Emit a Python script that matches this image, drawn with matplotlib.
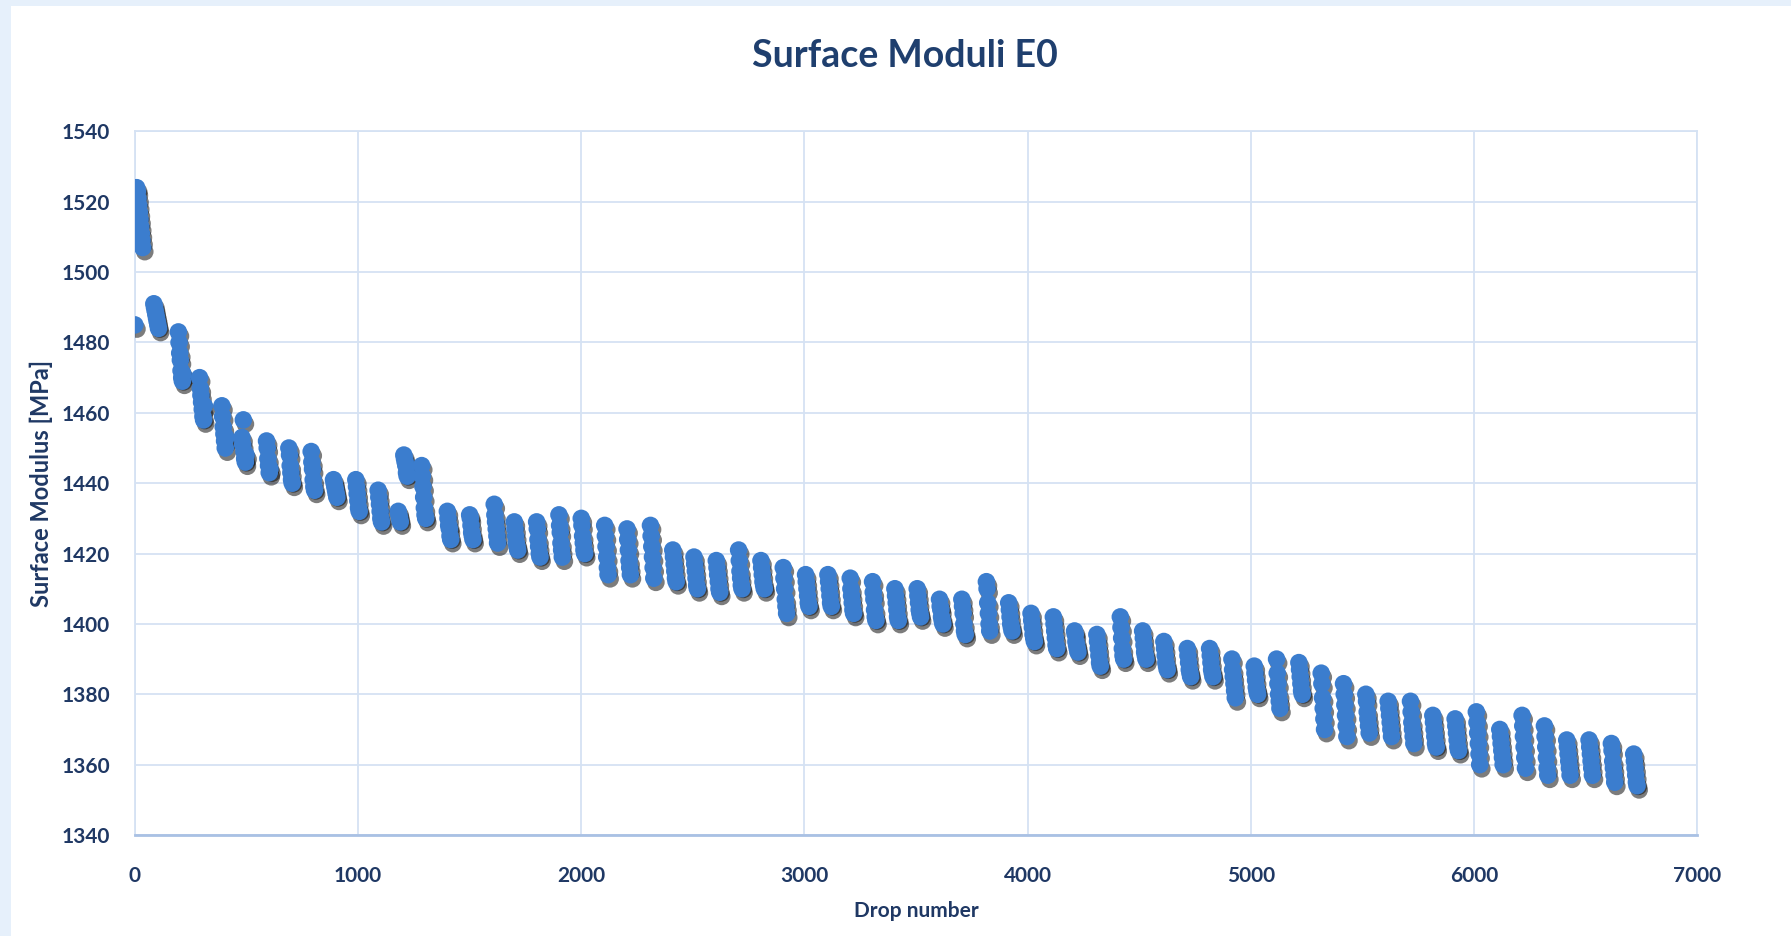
import matplotlib.pyplot as plt
import matplotlib.patheffects as pe
from matplotlib.patches import Rectangle

# Data: each cluster = starting drop number + measured moduli (MPa)
cluster_drop = [
    0, 8, 85, 195, 290, 390, 480, 590, 690, 790,
    890, 990, 1090, 1180, 1205, 1285, 1400, 1500, 1610, 1700,
    1800, 1900, 2000, 2105, 2205, 2310, 2410, 2505, 2605, 2705,
    2805, 2905, 3005, 3105, 3205, 3305, 3405, 3505, 3605, 3705,
    3815, 3915, 4015, 4115, 4210, 4310, 4415, 4515, 4610, 4715,
    4815, 4915, 5015, 5115, 5215, 5315, 5415, 5515, 5615, 5715,
    5815, 5915, 6010, 6115, 6215, 6315, 6415, 6515, 6615, 6715,
]

cluster_moduli = [
    [1485],
    [1524, 1523, 1521, 1519, 1517, 1515, 1513, 1511, 1509, 1507],
    [1491, 1490, 1489, 1488, 1487, 1486, 1485, 1484],
    [1483, 1480, 1477, 1475, 1472, 1470, 1469, 1471],
    [1470, 1467, 1465, 1463, 1461, 1459, 1458, 1462],
    [1462, 1459, 1456, 1454, 1452, 1450, 1453],
    [1453, 1451, 1458, 1449, 1447, 1446, 1448],
    [1452, 1450, 1447, 1445, 1443, 1444],
    [1450, 1448, 1445, 1443, 1441, 1440],
    [1449, 1446, 1444, 1441, 1439, 1438],
    [1441, 1440, 1439, 1438, 1437, 1436],
    [1441, 1439, 1437, 1435, 1433, 1432],
    [1438, 1436, 1434, 1432, 1430, 1429],
    [1432, 1431, 1430, 1429],
    [1448, 1447, 1446, 1445, 1443, 1442],
    [1445, 1442, 1439, 1436, 1433, 1431, 1430],
    [1432, 1430, 1428, 1427, 1425, 1424],
    [1431, 1430, 1428, 1426, 1425, 1424],
    [1434, 1431, 1429, 1427, 1425, 1423],
    [1429, 1427, 1425, 1423, 1422, 1421],
    [1429, 1427, 1424, 1422, 1420, 1419],
    [1431, 1428, 1426, 1423, 1421, 1419],
    [1430, 1428, 1425, 1423, 1421, 1420],
    [1428, 1425, 1422, 1419, 1416, 1414],
    [1427, 1424, 1421, 1418, 1416, 1414],
    [1428, 1425, 1422, 1419, 1416, 1413],
    [1421, 1419, 1417, 1415, 1413, 1412],
    [1419, 1417, 1415, 1413, 1411, 1410],
    [1418, 1416, 1414, 1412, 1410, 1409],
    [1421, 1418, 1415, 1413, 1411, 1410],
    [1418, 1416, 1414, 1412, 1411, 1410],
    [1416, 1413, 1410, 1407, 1405, 1403],
    [1414, 1412, 1410, 1408, 1406, 1405],
    [1414, 1412, 1410, 1408, 1406, 1405],
    [1413, 1410, 1408, 1406, 1404, 1403],
    [1412, 1409, 1407, 1404, 1402, 1401],
    [1410, 1408, 1406, 1404, 1402, 1401],
    [1410, 1408, 1406, 1404, 1403, 1402],
    [1407, 1405, 1404, 1402, 1401, 1400],
    [1407, 1405, 1403, 1400, 1398, 1397],
    [1412, 1410, 1406, 1403, 1400, 1398],
    [1406, 1404, 1402, 1400, 1399, 1398],
    [1403, 1401, 1399, 1397, 1396, 1395],
    [1402, 1400, 1398, 1396, 1394, 1393],
    [1398, 1397, 1395, 1394, 1393, 1392],
    [1397, 1395, 1393, 1391, 1389, 1388],
    [1402, 1399, 1396, 1393, 1391, 1390],
    [1398, 1396, 1394, 1392, 1391, 1390],
    [1395, 1393, 1391, 1389, 1388, 1387],
    [1393, 1391, 1389, 1387, 1386, 1385],
    [1393, 1391, 1389, 1387, 1386, 1385],
    [1390, 1387, 1385, 1383, 1381, 1379],
    [1388, 1386, 1384, 1382, 1381, 1380],
    [1390, 1386, 1383, 1380, 1378, 1376],
    [1389, 1387, 1385, 1383, 1381, 1380],
    [1386, 1383, 1379, 1376, 1373, 1370],
    [1383, 1380, 1377, 1374, 1371, 1368],
    [1380, 1378, 1375, 1373, 1371, 1369],
    [1378, 1376, 1374, 1372, 1370, 1368],
    [1378, 1375, 1372, 1370, 1368, 1366],
    [1374, 1372, 1370, 1368, 1366, 1365],
    [1373, 1371, 1369, 1367, 1365, 1364],
    [1375, 1372, 1369, 1366, 1363, 1360],
    [1370, 1368, 1366, 1364, 1362, 1360],
    [1374, 1371, 1368, 1365, 1362, 1359],
    [1371, 1368, 1365, 1362, 1359, 1357],
    [1367, 1365, 1363, 1361, 1359, 1357],
    [1367, 1365, 1363, 1361, 1359, 1357],
    [1366, 1364, 1361, 1359, 1357, 1355],
    [1363, 1361, 1359, 1357, 1355, 1354],
]

x_ticks = [0, 1000, 2000, 3000, 4000, 5000, 6000, 7000]
y_ticks = [1340, 1360, 1380, 1400, 1420, 1440, 1460, 1480, 1500, 1520, 1540]

# consecutive drops inside one cluster
drops, moduli = [], []
for start, vals in zip(cluster_drop, cluster_moduli):
    for i, v in enumerate(vals):
        drops.append(start + 3 * i)
        moduli.append(v)

plt.rcParams["font.family"] = ["Lato", "DejaVu Sans"]
text_color = "#1F3864"
grid_color = "#D5E2F3"

fig = plt.figure(figsize=(17.91, 9.36), dpi=100)
fig.patch.set_facecolor("#E6F0FB")
fig.patches.append(Rectangle((0.006, 0), 0.994, 0.994, transform=fig.transFigure,
                             facecolor="white", edgecolor="none", zorder=-1))

ax = fig.add_axes([0.0753, 0.1079, 0.8724, 0.7517])
ax.set_facecolor("white")

pts = ax.scatter(drops, moduli, s=160, color="#3B7DCE", edgecolors="none", zorder=3)
pts.set_path_effects([
    pe.SimplePatchShadow(offset=(1.5, -3), shadow_rgbFace="#101010", alpha=0.55),
    pe.Normal(),
])

ax.set_xlim(0, 7000)
ax.set_ylim(1340, 1540)
ax.set_xticks(x_ticks)
ax.set_yticks(y_ticks)
ax.tick_params(length=0, labelsize=15, labelcolor=text_color)
ax.tick_params(axis="x", pad=22)
ax.tick_params(axis="y", pad=18)
for lbl in ax.get_xticklabels() + ax.get_yticklabels():
    lbl.set_fontweight("bold")

ax.grid(True, color=grid_color, linewidth=1.3)
ax.set_axisbelow(True)
for side in ["top", "right", "left"]:
    ax.spines[side].set_color(grid_color)
    ax.spines[side].set_linewidth(1.3)
ax.spines["bottom"].set_color("#A9C1E4")
ax.spines["bottom"].set_linewidth(2)

ax.set_xlabel("Drop number", fontsize=15, fontweight="bold", color=text_color, labelpad=11)
ax.set_ylabel("Surface Modulus [MPa]", fontsize=17, fontweight="bold", color=text_color, labelpad=6)
fig.suptitle("Surface Moduli E0", fontsize=27, fontweight="bold", color="#1F3F6E", x=0.505, y=0.958)

fig.savefig("out.png", dpi=100)
